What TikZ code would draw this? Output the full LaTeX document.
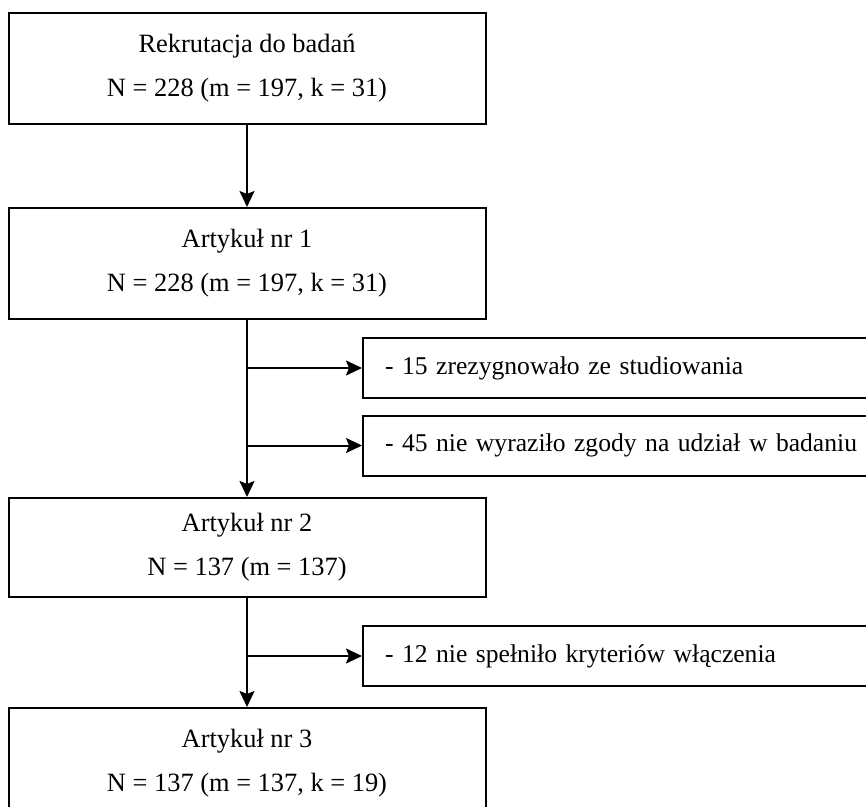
\documentclass[tikz,border=0pt]{standalone}
\usepackage{fontspec}
\setmainfont{Liberation Serif}
\usetikzlibrary{arrows.meta}

\begin{document}
\begin{tikzpicture}[x=0.5pt, y=-0.5pt,
    mainbox/.style={draw, line width=1pt, minimum width=238.5pt, align=center, font=\fontsize{13.2}{22}\selectfont},
    sidebox/.style={draw, line width=1pt, anchor=west, minimum height=30pt, text width=260pt, inner xsep=11pt, align=left, font=\fontsize{12.8}{15}\selectfont},
    flow/.style={line width=1pt, -{Stealth[length=8pt,width=7.5pt,inset=1.5pt]}}]
                % Page frame
                \useasboundingbox (0,0) rectangle (866,807);
                \clip (0,0) rectangle (866,807);
                
                % Main column
                \node[mainbox, minimum height=55.5pt] (recruit) at (247,68.5) {Rekrutacja do badań\\N = 228 (m = 197, k = 31)};
                \node[mainbox, minimum height=55.5pt] (art1) at (247,263.5) {Artykuł nr 1\\N = 228 (m = 197, k = 31)};
                \node[mainbox, minimum height=49.5pt] (art2) at (247,547.5) {Artykuł nr 2\\N = 137 (m = 137)};
                \node[mainbox, minimum height=55.5pt] (art3) at (247,763.5) {Artykuł nr 3\\N = 137 (m = 137, k = 19)};
                
                % Dropped out
                \node[sidebox] (quit) at (362,368) {- 15 zrezygnowało ze studiowania};
                \node[sidebox] (noconsent) at (362,445.5) {- 45 nie wyraziło zgody na udział w badaniu};
                \node[sidebox] (excluded) at (362,656) {- 12 nie spełniło kryteriów włączenia};
                
                % Arrows
                \draw[flow] (recruit.south) -- (art1.north);
                \draw[flow] (art1.south) -- (art2.north);
                \draw[flow] (art1.south |- quit.west) -- (quit.west);
                \draw[flow] (art1.south |- noconsent.west) -- (noconsent.west);
                \draw[flow] (art2.south) -- (art3.north);
                \draw[flow] (art2.south |- excluded.west) -- (excluded.west);
            \end{tikzpicture}
\end{document}
